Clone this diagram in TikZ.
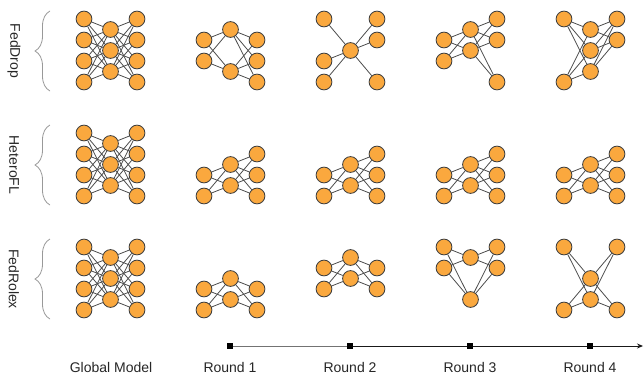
\documentclass[tikz,border=0pt]{standalone}
\usepackage{fontspec}
\setmainfont{Liberation Sans}
\usetikzlibrary{arrows.meta,backgrounds,decorations.pathreplacing}
\definecolor{neuronfill}{RGB}{250,168,62}
% one network: name, x of first layer, y of top slot, slots of the three layers
\newcommand{\drawnet}[6]{%
  \foreach \s in {#4} \node[neuron] (#1-a\s) at (#2, #3+\s*21-21) {};
  \foreach \s in {#5} \node[neuron] (#1-b\s) at (#2+26.5, #3+\s*21-10.5) {};
  \foreach \s in {#6} \node[neuron] (#1-c\s) at (#2+53, #3+\s*21-21) {};
  \begin{pgfonlayer}{background}
    \foreach \s in {#4} \foreach \t in {#5} \draw[link] (#1-a\s) -- (#1-b\t);
    \foreach \s in {#5} \foreach \t in {#6} \draw[link] (#1-b\s) -- (#1-c\t);
  \end{pgfonlayer}}
\begin{document}
\begin{tikzpicture}[x=1pt, y=-1pt,
  every node/.style={font=\fontsize{14}{16}\selectfont, text=black!85},
  neuron/.style={circle,draw=black!75,line width=0.85pt,fill=neuronfill,minimum size=15.8pt,inner sep=0pt},
  link/.style={draw=black!70,line width=0.8pt},
  rowbrace/.style={draw=black!40,line width=0.8pt,decorate,decoration={brace,amplitude=15pt}},
  tick/.style={fill=black,minimum size=6pt,inner sep=0pt}]
\useasboundingbox (0,0) rectangle (644,375);
% row labels
\node[rotate=-90] (feddrop) at (14,51) {FedDrop};
\node[rotate=-90] (heterofl) at (14,165) {HeteroFL};
\node[rotate=-90] (fedrolex) at (14,279) {FedRolex};
\draw[rowbrace] (50,91) -- (50,11);
\draw[rowbrace] (50,205) -- (50,125);
\draw[rowbrace] (50,319) -- (50,239);
% global models
\drawnet{ga}{84}{19}{1,2,3,4}{1,2,3}{1,2,3,4}
\drawnet{gb}{84}{133}{1,2,3,4}{1,2,3}{1,2,3,4}
\drawnet{gc}{84}{247}{1,2,3,4}{1,2,3}{1,2,3,4}
% FedDrop
\drawnet{da}{204}{19}{2,3}{1,3}{2,3,4}
\drawnet{db}{324}{19}{1,3,4}{2}{1,2,4}
\drawnet{dc}{444}{19}{2,3}{1,2}{1,2,4}
\drawnet{dd}{564}{19}{1,4}{1,2,3}{1,2}
% HeteroFL
\drawnet{ha}{204}{133}{3,4}{2,3}{2,3,4}
\drawnet{hb}{324}{133}{3,4}{2,3}{2,3,4}
\drawnet{hc}{444}{133}{3,4}{2,3}{2,3,4}
\drawnet{hd}{564}{133}{3,4}{2,3}{2,3,4}
% FedRolex
\drawnet{ra}{204}{247}{3,4}{2,3}{3,4}
\drawnet{rb}{324}{247}{2,3}{1,2}{2,3}
\drawnet{rc}{444}{247}{1,2}{1,3}{1,2}
\drawnet{rd}{564}{247}{1,4}{2,3}{1,4}
% time axis
\node[tick] (t1) at (230,346) {};
\node[tick] (t2) at (350,346) {};
\node[tick] (t3) at (470,346) {};
\node[tick] (t4) at (590,346) {};
\coordinate (tend) at (643,346);
\begin{pgfonlayer}{background}
\draw[black!55,line width=0.9pt] (t1.center) -- (t2.center);
\draw[black!90,line width=0.9pt,-{Stealth[length=6pt,width=5pt]}] (t2.center) -- (tend);
\end{pgfonlayer}
\node (lglobal) at (111,367) {Global Model};
\node (lr1) at (230,367) {Round 1};
\node (lr2) at (350,367) {Round 2};
\node (lr3) at (470,367) {Round 3};
\node (lr4) at (590,367) {Round 4};
\end{tikzpicture}
\end{document}
